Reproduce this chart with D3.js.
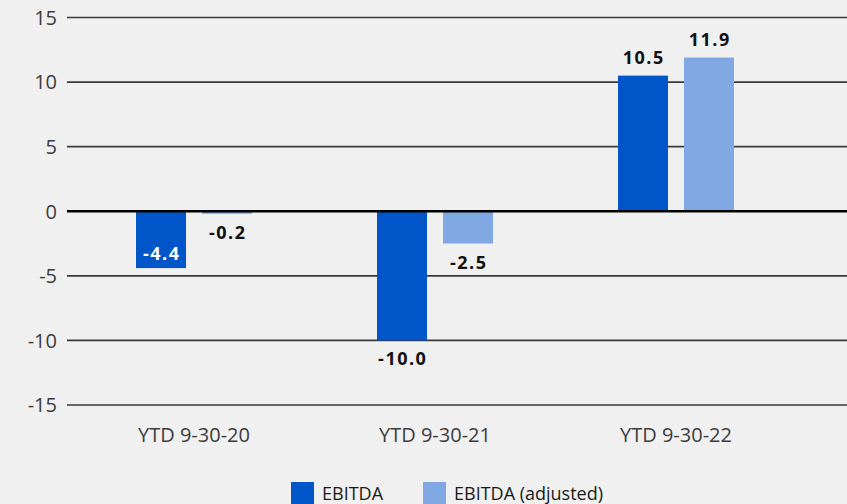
<!DOCTYPE html>
<html>
<head>
<meta charset="utf-8">
<script src="https://cdn.jsdelivr.net/npm/d3@7/dist/d3.min.js"></script>
<style>
html,body{margin:0;padding:0;background:#f0f0f0;}
svg{display:block;}
</style>
</head>
<body>
<script>
const categories = ["YTD 9-30-20", "YTD 9-30-21", "YTD 9-30-22"];
const seriesNames = ["EBITDA", "EBITDA (adjusted)"];
const ebitda = [-4.4, -10.0, 10.5];
const ebitdaAdjusted = [-0.2, -2.5, 11.9];
const yTicks = [-15, -10, -5, 0, 5, 10, 15];
// label placement per series/category: "inside" or "outside"
const ebitdaLabelPos = ["inside", "outside", "outside"];
const ebitdaAdjustedLabelPos = ["outside", "outside", "outside"];

const seriesValues = [ebitda, ebitdaAdjusted];
const seriesLabelPos = [ebitdaLabelPos, ebitdaAdjustedLabelPos];
const colors = ["#0055c8", "#80a9e3"];

const W = 847, H = 504;
const svg = d3.select("body").append("svg").attr("width", W).attr("height", H)
  .style("background", "#f0f0f0");

const y = d3.scaleLinear().domain([-15, 15]).range([405, 17.5]);
const x0 = d3.scaleBand().domain(categories).range([73.5, 796.5])
  .paddingInner(125/241).paddingOuter(125/241/2);
const x1 = d3.scaleBand().domain(seriesNames).range([0, x0.bandwidth()])
  .paddingInner(16/66).paddingOuter(0);

const gridLeft = 67, gridRight = W;
const font = "'Open Sans', 'Noto Sans', sans-serif";
const fmtTick = d => String(d);
const fmtVal = d => d.toFixed(1);

// gridlines
svg.append("g").selectAll("line").data(yTicks.filter(t => t !== 0)).join("line")
  .attr("x1", gridLeft).attr("x2", gridRight)
  .attr("y1", d => y(d)).attr("y2", d => y(d))
  .attr("stroke", "#3a3a3a").attr("stroke-width", 1.6);

// y axis labels
const yAxis = d3.axisLeft(y).tickValues(yTicks).tickSize(0).tickPadding(0).tickFormat(fmtTick);
const gy = svg.append("g").attr("transform", `translate(57,0)`).call(yAxis);
gy.select(".domain").remove();
gy.selectAll("text").attr("font-family", font).attr("font-size", 20).attr("fill", "#3c3c3c")
  .attr("dy", "0.34em");

// bars
const data = [];
categories.forEach((c, i) => {
  seriesNames.forEach((s, j) => {
    data.push({cat: c, ser: s, v: seriesValues[j][i], j: j, pos: seriesLabelPos[j][i]});
  });
});

const barX = d => x0(d.cat) + x1(d.ser);
svg.append("g").selectAll("rect").data(data).join("rect")
  .attr("x", barX)
  .attr("width", x1.bandwidth())
  .attr("y", d => Math.min(y(d.v), y(0)))
  .attr("height", d => Math.abs(y(d.v) - y(0)))
  .attr("fill", d => colors[d.j]);

// zero line
svg.append("line").attr("x1", gridLeft).attr("x2", gridRight)
  .attr("y1", y(0)).attr("y2", y(0))
  .attr("stroke", "#000").attr("stroke-width", 2.6);

// value labels
svg.append("g").selectAll("text").data(data).join("text")
  .attr("x", d => barX(d) + x1.bandwidth() / 2 + 0.75)
  .attr("y", d => {
    if (d.v >= 0) return y(d.v) - 12;
    if (d.pos === "inside") return y(d.v) - 8;
    return y(d.v) + 25;
  })
  .attr("text-anchor", "middle")
  .attr("font-family", font).attr("font-weight", 700).attr("font-size", 18)
  .attr("letter-spacing", "1.5px")
  .attr("fill", d => d.pos === "inside" ? "#ffffff" : "#111111")
  .text(d => fmtVal(d.v));

// x axis labels
const xAxis = d3.axisBottom(x0).tickSize(0).tickPadding(0);
const gx = svg.append("g").attr("transform", `translate(0,442)`).call(xAxis);
gx.select(".domain").remove();
gx.selectAll("text").attr("font-family", font).attr("font-size", 20).attr("fill", "#3c3c3c")
  .attr("dy", 0);

// legend
const legendX = [291, 423];
const lg = svg.append("g").selectAll("g").data(seriesNames).join("g")
  .attr("transform", (d, i) => `translate(${legendX[i]},482)`);
lg.append("rect").attr("width", 23).attr("height", 23).attr("fill", (d, i) => colors[i]);
lg.append("text").attr("x", 31).attr("y", 18)
  .attr("font-family", font).attr("font-size", 18).attr("fill", "#1a1a1a")
  .text(d => d);
</script>
</body>
</html>
